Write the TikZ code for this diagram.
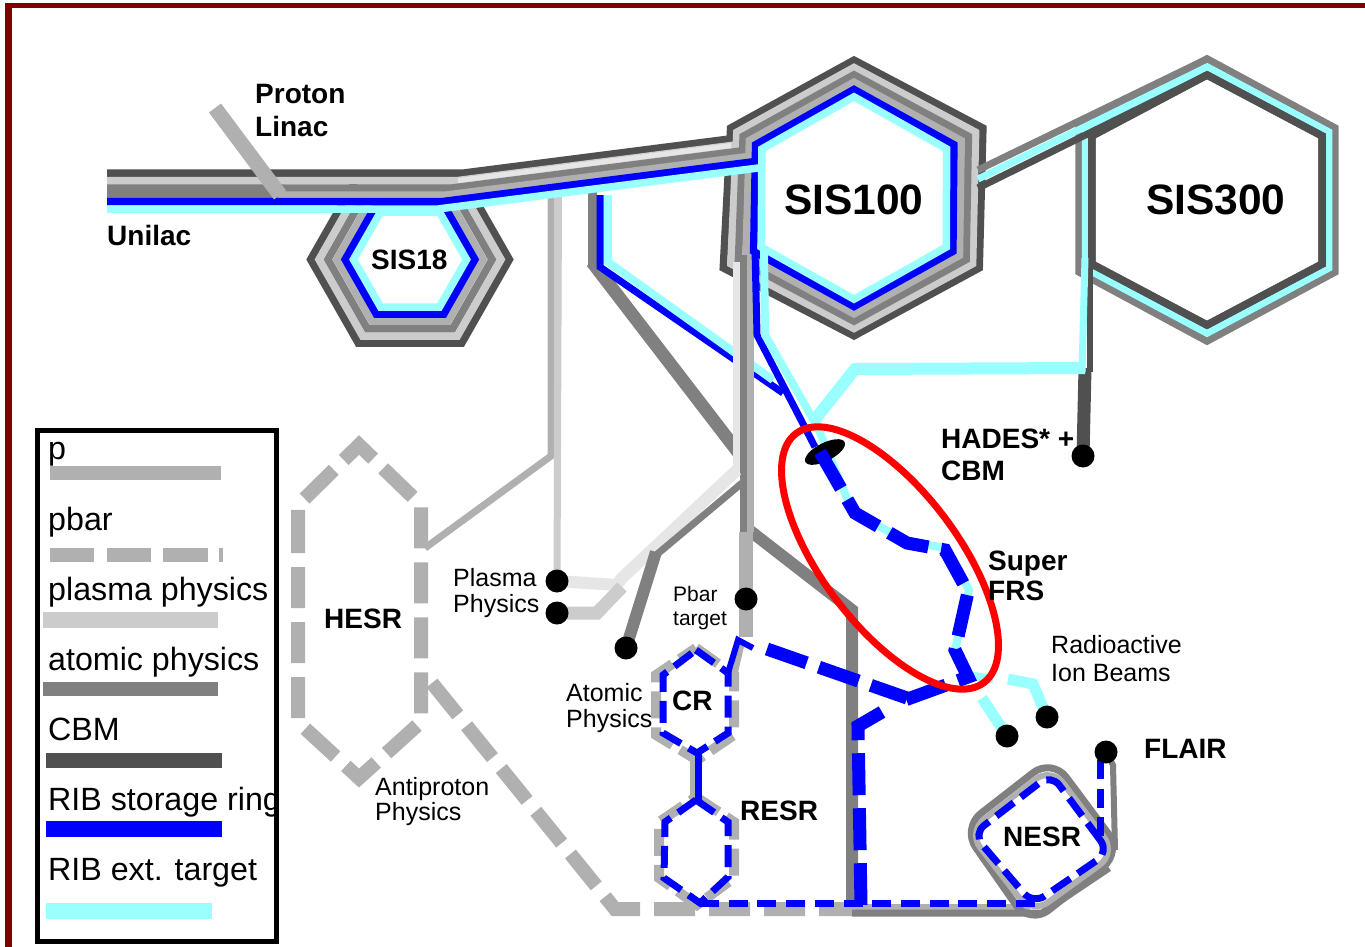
\documentclass[tikz,border=0pt]{standalone}
\usepackage{fontspec}
\setmainfont{Liberation Sans}
\definecolor{pgray}{HTML}{B0B0B0}
\definecolor{plasmagray}{HTML}{CCCCCC}
\definecolor{plasmalight}{HTML}{E6E6E6}
\definecolor{atomicgray}{HTML}{808080}
\definecolor{cbmgray}{HTML}{505050}
\definecolor{ribblue}{HTML}{0000FF}
\definecolor{extcyan}{HTML}{99FFFF}
\definecolor{framered}{HTML}{800000}
\tikzset{
    band/.style={line width=7.5pt},
    pbarline/.style={draw=pgray, line width=14pt, dash pattern=on 41pt off 14pt},
    ribthick/.style={draw=ribblue, line width=13pt, dash pattern=on 42pt off 13pt},
    ribthin/.style={draw=ribblue, line width=7pt, dash pattern=on 22pt off 9pt},
    ribrow/.style={draw=ribblue, line width=7pt, dash pattern=on 19pt off 9.7pt},
    pthin/.style={draw=pgray, line width=10pt, dash pattern=on 27pt off 9pt},
    dot/.style={circle, fill=black, inner sep=0pt, minimum size=23pt},
    lbl/.style={anchor=base west, inner sep=0pt, align=left, font=\fontsize{25}{#1}\selectfont},
    bold/.style={anchor=base west, inner sep=0pt, align=left, font=\fontsize{28}{#1}\selectfont\bfseries},
    legendtext/.style={anchor=base west, inner sep=0pt, font=\fontsize{32.2}{36}\selectfont}
}
% ring with a point on top: centre x, centre y, half width, apex, half side, skew, colour
\newcommand{\pointhex}[7]{
    \draw[band, draw=#7] ({#1},{#2-#4}) -- ({#1+#3+#6/2},{#2-#5}) -- ({#1+#3-#6/2},{#2+#5})
        -- ({#1},{#2+#4}) -- ({#1-#3-#6},{#2+#5}) -- ({#1-#3+#6},{#2-#5}) -- cycle;
}
\begin{document}
\begin{tikzpicture}[x=1pt, y=-1pt]
    \useasboundingbox (0,0) rectangle (1365,947);
    \fill[white] (0,0) rectangle (1365,947);

    % Frame
    \fill[framered] (5,3) rectangle (1365,8);
    \fill[framered] (5,3) rectangle (12,947);

    % Beam ends
    \coordinate (plasmaA) at (557,581);
    \coordinate (plasmaB) at (557,613);
    \coordinate (atomicEnd) at (626,648);
    \coordinate (pbarTarget) at (746,599);
    \coordinate (hades) at (1083,456);
    \coordinate (ionA) at (1007,736);
    \coordinate (ionB) at (1047,717);
    \coordinate (flair) at (1106,752);

    % SIS300
    \foreach \col/\f in {atomicgray/5, extcyan/3, cbmgray/1} {
        \pgfmathsetmacro{\hw}{112+19*\f/6}
        \pgfmathsetmacro{\ap}{121+24*\f/6}
        \pgfmathsetmacro{\sd}{62+12*\f/6}
        \pointhex{1207}{200}{\hw}{\ap}{\sd}{0}{\col}
    }

    % SIS18
    \foreach \col/\hh in {cbmgray/83.5, plasmagray/76.5, atomicgray/69, pgray/61.5, ribblue/54.5, extcyan/47.5} {
        \draw[band, draw=\col] ({410-1.19*\hh},259.5) -- ({410-0.62*\hh},{259.5-\hh}) -- ({410+0.62*\hh},{259.5-\hh})
            -- ({410+1.19*\hh},259.5) -- ({410+0.62*\hh},{259.5+\hh}) -- ({410-0.62*\hh},{259.5+\hh}) -- cycle;
    }

    % Branches under the main line
    \draw[line width=7pt, draw=pgray] (551,195) -- (551,456) -- (425,548);
    \draw[line width=7pt, draw=plasmagray] (558.5,195) -- (plasmaA);
    \draw[line width=9pt, draw=atomicgray] (592,190) -- (592,265);
    \draw[line width=13pt, draw=atomicgray] (592,262) -- (738,452);
    \draw[line width=7pt, draw=ribblue] (600,195) -- (600,267) -- (783,393);
    \draw[line width=8pt, draw=extcyan] (608,195) -- (608,262) -- (773,380);

    % Unilac line and SIS100
    \draw[line width=14pt, draw=atomicgray] (107,191) -- (285,191);
    \foreach \col/\f/\ya/\xa/\xs in {cbmgray/5.5/173/464/107, plasmagray/4.5/180.5/458/107, atomicgray/3.5/188/452/285,
            pgray/2.5/195/447/278, ribblue/1.5/201.5/443/107, extcyan/0.5/209/438/107} {
        \pgfmathsetmacro{\hw}{89+41.5*\f/6}
        \pgfmathsetmacro{\ap}{97.5+44*\f/6}
        \pgfmathsetmacro{\sd}{47+25*\f/6}
        \pgfmathsetmacro{\sk}{4*\f/6}
        \pointhex{854}{198}{\hw}{\ap}{\sd}{\sk}{\col}
        \pgfmathsetmacro{\xe}{854-\hw}
        \draw[band, draw=\col] (\xs,\ya) -- (\xa,\ya) -- (\xe,{\ya-0.128*(\xe-\xa)});
    }
    \draw[line width=5pt, draw=plasmalight] (458,180.5) -- (731,145.5);
    \draw[line width=15pt, draw=pgray] (215,108) -- (280,195);

    % Link between SIS100 and SIS300
    \foreach \col/\f/\ya in {atomicgray/5/170, extcyan/3/179, cbmgray/1/188} {
        \pgfmathsetmacro{\ap}{121+24*\f/6}
        \draw[line width=7pt, draw=\col] (978,\ya) -- (1207,{200-\ap});
    }
    \pointhex{1207}{200}{115.2}{125}{64}{0}{cbmgray}

    % Bundle below SIS100
    \draw[line width=12pt, draw=atomicgray] (749,530) -- (852,610) -- (852,905);
    \draw[line width=7pt, draw=plasmalight] (736.5,262) -- (736.5,472);
    \draw[line width=7pt, draw=atomicgray] (743.5,255) -- (743.5,532);
    \draw[line width=7pt, draw=pgray] (750,255) -- (750,532);
    \draw[line width=14pt, draw=pgray] (746,532) -- (746,637);
    \draw[line width=12pt, draw=plasmalight] (737,470) -- (622,578) -- (617,585) -- (plasmaA);
    \draw[line width=13pt, draw=plasmagray] (622,587) -- (597,613) -- (plasmaB);
    \draw[line width=7pt, draw=atomicgray] (742,483) -- (655,556);
    \draw[line width=12pt, draw=atomicgray] (656,552) -- (atomicEnd);
    \draw[line width=7pt, draw=ribblue] (755,250) -- (757,335) -- (815,447);
    \draw[line width=8pt, draw=extcyan] (764,250) -- (765,335) -- (818,428);

    % Link from SIS300 to the target
    \draw[line width=6pt, draw=cbmgray] (1090,262) -- (1090,372);
    \draw[line width=13pt, draw=cbmgray] (1085,368) -- (hades);
    \draw[line width=7pt, draw=extcyan] (1085,258) -- (1082,372);
    \draw[line width=12pt, draw=extcyan] (1085,368) -- (855,369) -- (813,422);

    % HESR and the antiproton line
    \draw[pbarline] (298,512) -- (298,722) -- (359,778) -- (421,722) -- (421,505) -- (359,445) -- (298,505) -- (298,512);
    \draw[pbarline] (432,683) -- (615,909) -- (855,909);
    \draw[line width=6pt, draw=pgray] (855,907) -- (1030,907);

    % CR and RESR
    \draw[pthin] (696,648) -- (734,675) -- (734,735) -- (697,760) -- (656,735) -- (656,675) -- cycle;
    \draw[pthin] (696,797) -- (734,822) -- (734,878) -- (697,905) -- (659,878) -- (659,822) -- cycle;
    \draw[line width=10pt, draw=pgray] (695,753) -- (695,803);
    \draw[line width=7pt, draw=ribblue] (698,753) -- (698,803);
    \draw[ribthin] (696,650) -- (728,673) -- (728,733) -- (697,753) -- (663,733) -- (663,675) -- cycle;
    \draw[ribthin] (696,800) -- (728,822) -- (728,877) -- (700,903) -- (664,878) -- (665,822) -- cycle;
    \draw[line width=6pt, draw=pgray] (742,642) -- (735,672);
    \draw[line width=6pt, draw=ribblue] (728,673) -- (738,640) -- (753,648);

    % Bottom row and NESR
    \draw[line width=7pt, draw=atomicgray] (852,913) -- (1042,913) -- (1109,868);
    \draw[line width=7pt, draw=atomicgray, rounded corners=24pt] (1122,852) -- (1052,758) -- (962,828) -- (1030,925) -- cycle;
    \draw[line width=6pt, draw=pgray, rounded corners=20pt] (1116,853) -- (1051,767) -- (968,832) -- (1032,914) -- cycle;
    \draw[ribthin, rounded corners=14pt] (1109,852) -- (1051,774) -- (973,834) -- (1033,904) -- cycle;
    \draw[line width=6pt, draw=atomicgray] (flair) -- (1113,765) -- (1115,850);
    \draw[ribrow] (1100,760) -- (1100,838);
    \draw[ribrow] (700,903) -- (1042,903);

    % Super FRS
    \draw[line width=8pt, draw=extcyan] (818,428) -- (853,513) -- (907,541) -- (945,548) -- (969,590) -- (955,650) -- (968,675) -- (993,679);
    \draw[line width=11pt, draw=extcyan] (1008,679) -- (1033,684) -- (ionB);
    \draw[line width=11pt, draw=extcyan] (982,698) -- (ionA);
    \fill[black, shift={(825,452)}, rotate=27] (0,0) ellipse [x radius=22, y radius=9];
    \draw[ribthick] (820,452) -- (855,513) -- (907,543) -- (945,550) -- (968,592) -- (955,650) -- (968,677) -- (905,700);
    \draw[ribthick] (882,712) -- (858,726) -- (861,905);
    \draw[ribthick] (767,649) -- (907,698);

    % Red mark
    \draw[draw=red, line width=7pt, shift={(890,558)}, rotate=-53] (0,0) ellipse [x radius=156, y radius=68];

    % Dots on top of the lines
    \foreach \n in {plasmaA, plasmaB, atomicEnd, pbarTarget, hades, ionA, ionB, flair}
        \node[dot] (\n-dot) at (\n) {};

    % Labels
    \node[bold=33] (linacLabel) at (255,137) {Proton\\Linac};
    \node[bold=33] (unilacLabel) at (107,245) {Unilac};
    \node[bold=33] (sis18Label) at (371,269) {SIS18};
    \node[bold=33, font=\fontsize{42.5}{46}\selectfont\bfseries] (sis100Label) at (784,214) {SIS100};
    \node[bold=33, font=\fontsize{42.5}{46}\selectfont\bfseries] (sis300Label) at (1146,214) {SIS300};
    \node[bold=32] (hadesLabel) at (941,480) {HADES* +\\CBM};
    \node[bold=30] (frsLabel) at (988,600) {Super\\FRS};
    \node[lbl=28] (ionLabel) at (1051,681) {Radioactive\\Ion Beams};
    \node[bold=33] (flairLabel) at (1144,758) {FLAIR};
    \node[bold=33] (nesrLabel) at (1003,846) {NESR};
    \node[bold=33] (resrLabel) at (740,820) {RESR};
    \node[bold=33] (crLabel) at (672,710) {CR};
    \node[bold=33] (hesrLabel) at (324,628) {HESR};
    \node[lbl=26] (plasmaLabel) at (453,612) {Plasma\\Physics};
    \node[lbl=24, font=\fontsize{21}{24}\selectfont] (pbarLabel) at (673,625) {Pbar\\target};
    \node[lbl=26] (atomicLabel) at (566,727) {Atomic\\Physics};
    \node[lbl=25] (antiLabel) at (375,820) {Antiproton\\Physics};

    % Legend
    \node[legendtext] (legP) at (48,459) {p};
    \node[legendtext] (legPbar) at (48,530) {pbar};
    \node[legendtext] (legPlasma) at (48,600) {plasma physics};
    \node[legendtext] (legAtomic) at (48,670) {atomic physics};
    \node[legendtext] (legCbm) at (48,740) {CBM};
    \node[legendtext] (legStorage) at (48,810) {RIB storage ring};
    \node[legendtext] (legTarget) at (48,880) {RIB ext. target};
    \fill[pgray] (50,465.5) rectangle (221,480);
    \foreach \a/\b in {50/94, 107/151, 163/208, 219/223}
        \fill[pgray] (\a,548) rectangle (\b,562);
    \fill[plasmagray] (43,612) rectangle (218,628);
    \fill[atomicgray] (43,682) rectangle (218,696);
    \fill[cbmgray] (46,753) rectangle (222,768);
    \fill[ribblue] (46,821) rectangle (222,837);
    \fill[extcyan] (46,903) rectangle (212,919);
    \draw[line width=5pt] (37.5,430) rectangle (276,941);
\end{tikzpicture}
\end{document}
